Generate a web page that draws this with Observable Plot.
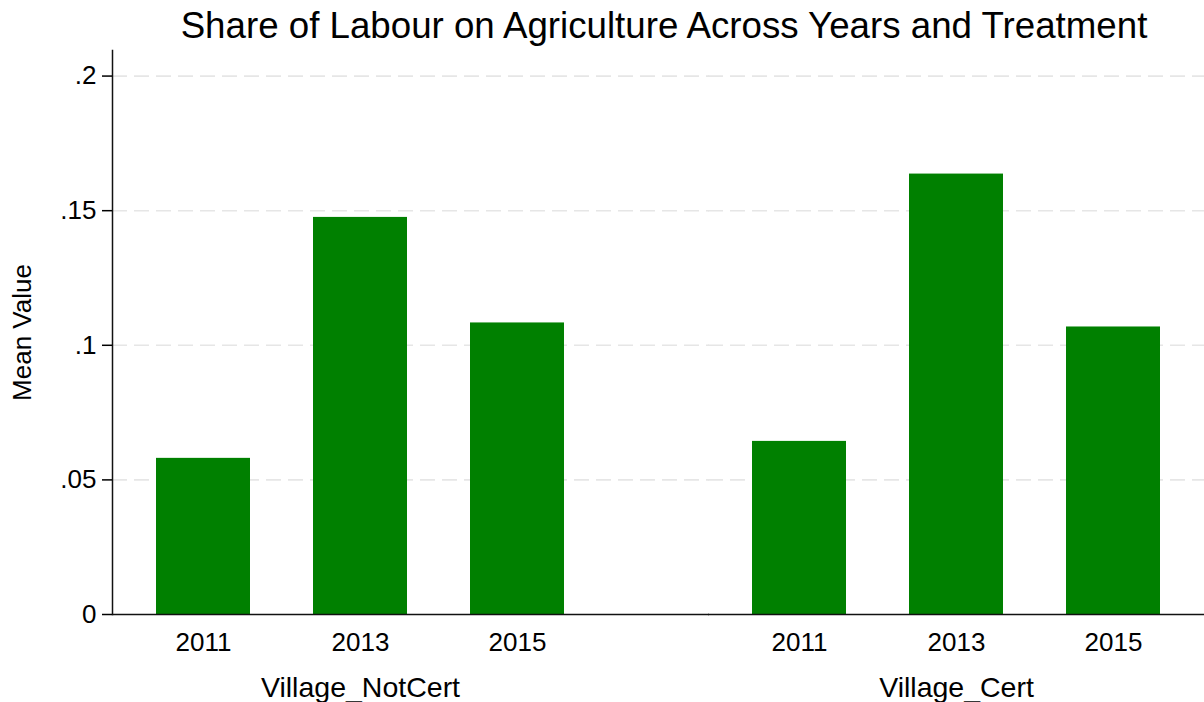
<!DOCTYPE html>
<html>
<head>
<meta charset="utf-8">
<script src="https://cdn.jsdelivr.net/npm/d3@7"></script>
<script src="https://cdn.jsdelivr.net/npm/@observablehq/plot@0.6"></script>
<style>
  body { margin: 0; background: #fff; font-family: "Liberation Sans", Arial, sans-serif; }
  #title { height: 48px; line-height: 52px; font-size: 36.7px; text-align: center; padding-left: 124px; width: 1080px; color: #000; white-space: nowrap; }
  svg { display: block; }
</style>
</head>
<body>
<div id="title">Share of Labour on Agriculture Across Years and Treatment</div>
<div id="chart"></div>
<script>
const groups = ["Village_NotCert", "Village_Cert"];
const years = ["2011", "2013", "2015"];
const notCertValues = [0.058, 0.1475, 0.1083];
const certValues = [0.0643, 0.1636, 0.1068];
const yTicks = [0, 0.05, 0.1, 0.15, 0.2];
const gridTicks = [0.05, 0.1, 0.15, 0.2];

const data = [
  ...years.map((y, i) => ({group: groups[0], year: y, value: notCertValues[i]})),
  ...years.map((y, i) => ({group: groups[1], year: y, value: certValues[i]}))
];

const fmt = d => d === 0 ? "0" : String(d).replace(/^0/, "");
const gap = 101;

const chart = Plot.plot({
  width: 1204,
  height: 654,
  marginTop: 2,
  marginBottom: 88,
  marginLeft: 112,
  marginRight: 0,
  style: { fontFamily: '"Liberation Sans", Arial, sans-serif', color: "#000", background: "#fff" },
  fx: { domain: groups, paddingInner: 0.168, paddingOuter: 0 },
  x: { domain: years, paddingInner: 0.4, paddingOuter: 0.275 },
  y: { domain: [0, 0.2095] },
  marks: [
    Plot.ruleY(gridTicks, { fx: gridTicks.map(() => groups[0]), insetRight: -gap, stroke: "#e6e6e6", strokeWidth: 1.6, strokeDasharray: "15,7" }),
    Plot.ruleY(gridTicks, { fx: gridTicks.map(() => groups[1]), stroke: "#e6e6e6", strokeWidth: 1.6, strokeDasharray: "15,7" }),
    Plot.barY(data, { fx: "group", x: "year", y: "value", fill: "#008000" }),
    Plot.ruleY([0], { fx: [groups[0]], insetRight: -gap, stroke: "#111", strokeWidth: 1.5 }),
    Plot.ruleY([0], { fx: [groups[1]], stroke: "#111", strokeWidth: 1.5 }),
    Plot.frame({ anchor: "left", facetAnchor: "left", stroke: "#111", strokeWidth: 1.5 }),
    Plot.axisY({ ticks: yTicks, tickFormat: fmt, fontSize: 26, tickSize: 10, tickPadding: 6, strokeWidth: 1.5, label: "Mean Value", labelArrow: "none", labelAnchor: "center", labelOffset: 100 }),
    Plot.axisX({ tickSize: 0, tickPadding: 18, fontSize: 26, label: null }),
    Plot.axisFx({ anchor: "bottom", tickSize: 0, tickPadding: 62, fontSize: 28.5, label: null })
  ]
});
document.getElementById("chart").appendChild(chart);
</script>
</body>
</html>
